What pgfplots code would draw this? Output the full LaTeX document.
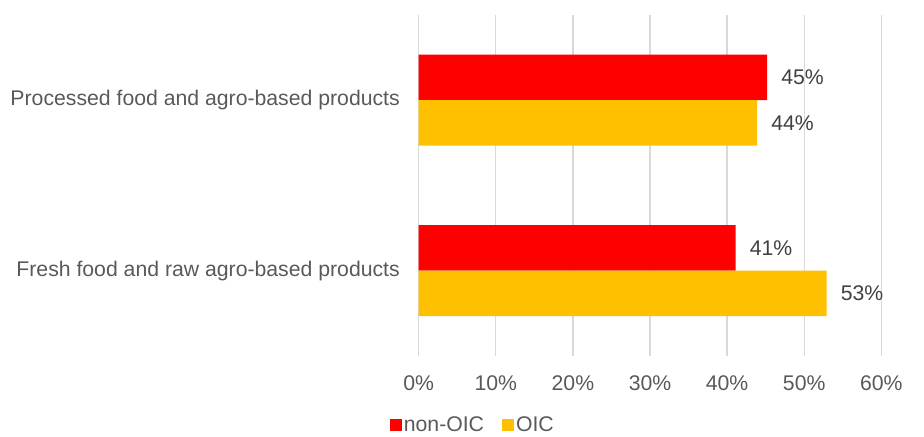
\documentclass[border=0pt]{standalone}
\usepackage{pgfplots}
\pgfplotsset{compat=1.18}
\usepackage{fontspec}
\setmainfont{Liberation Sans}

\definecolor{nonoic}{HTML}{FF0000}
\definecolor{oic}{HTML}{FFC000}
\definecolor{gridgrey}{HTML}{D9D9D9}
\definecolor{ticktext}{HTML}{595959}
\definecolor{valtext}{HTML}{404040}

\newcommand{\chartfont}{\fontsize{21.3}{25}\selectfont}

\begin{document}
\begin{tikzpicture}[x=1bp,y=1bp]
\useasboundingbox (-418.7,-81) rectangle (505.3,356);
\begin{axis}[
  at={(0,0)}, anchor=south west,
  scale only axis,
  width=462.6bp, height=341bp,
  xbar,
  bar width=45.5bp,
  xmin=0, xmax=60,
  ymin=-0.5, ymax=1.5,
  enlargelimits=false,
  clip=false,
  /pgf/number format/assume math mode=true,
  ytick={0,1},
  yticklabels={Fresh food and raw agro-based products, Processed food and agro-based products},
  xtick={0,10,...,60},
  xticklabel={\pgfmathprintnumber{\tick}\%},
  axis line style={draw=none},
  major tick length=0pt,
  xmajorgrids,
  grid style={gridgrey, line width=1.3bp},
  tick label style={font=\chartfont, text=ticktext},
  yticklabel style={anchor=east, inner sep=0pt, xshift=-18.7bp},
  xticklabel style={anchor=north, inner sep=0pt, yshift=-19.5bp},
  point meta=x,
  nodes near coords={\pgfmathprintnumber[fixed,precision=0]{\pgfplotspointmeta}\%},
  nodes near coords style={anchor=west, inner sep=0pt, xshift=14bp, font=\chartfont, text=valtext},
  legend columns=2,
  legend style={at={(0.117,-0.201)}, anchor=center, draw=none, fill=none,
    font=\chartfont, text=ticktext, inner sep=0pt,
    nodes={inner sep=2bp},
    /tikz/every even column/.append style={column sep=16bp}},
  legend image code/.code={\path[#1,draw=none] (0bp,-6bp) rectangle (12bp,6bp);},
]
% non-OIC economies
\addplot[fill=nonoic, draw=none, bar shift=22.75bp] coordinates {(41.1,0) (45.2,1)};
% OIC member countries
\addplot[fill=oic, draw=none, bar shift=-22.75bp] coordinates {(52.9,0) (43.9,1)};
\legend{non-OIC, OIC}
\end{axis}
\end{tikzpicture}
\end{document}
